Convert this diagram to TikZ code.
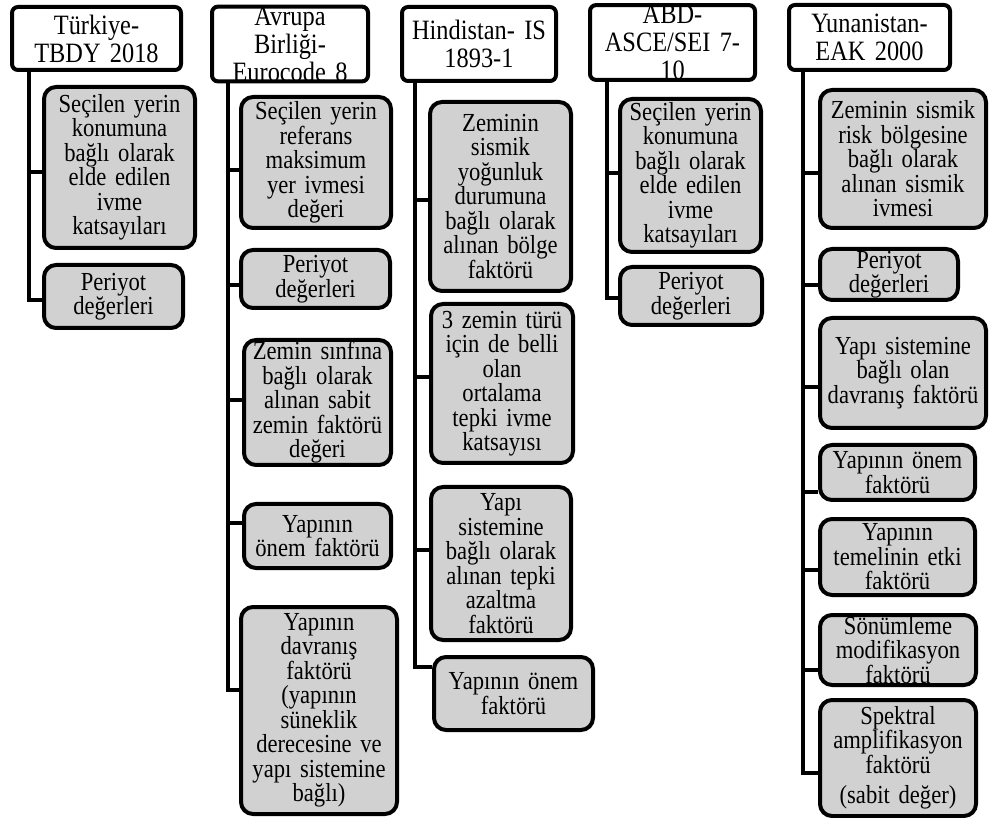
\documentclass[tikz,border=0pt]{standalone}
\usepackage{fontspec}
\setmainfont{Liberation Serif}[FakeStretch = 0.87]
\definecolor{boxgray}{RGB}{209, 209, 209}

\begin{document}
\begin{tikzpicture}[x = 1pt, y = -1pt,
	boxsize/.style 2 args = {minimum width = #1pt, minimum height = #2pt, text width = #1pt},
	head/.style = {draw, line width = 4pt, rounded corners = 6pt, fill = white, align = center, inner sep = 0pt, font = {\fontsize{28}{28}\selectfont\spaceskip 5pt\relax}},
	item/.style = {draw, line width = 4pt, rounded corners = 12pt, fill = boxgray, align = center, inner sep = 0pt, font = {\fontsize{26}{24.5}\selectfont\spaceskip 4.5pt\relax}},
	link/.style = {line width = 4pt}]

	\useasboundingbox (0, 0) rectangle (989, 818);

	\node [head, boxsize = {169}{63}] (h1) at (96.5, 38.5) {Türkiye-\\TBDY 2018};
	\node [head, boxsize = {156}{74}] (h2) at (290, 44) {Avrupa\\Birliği-\\Eurocode 8};
	\node [head, boxsize = {154}{74}] (h3) at (479, 44) {Hindistan- IS\\1893-1};
	\node [head, boxsize = {165}{71}] (h4) at (672.5, 42.5) {ABD-\\ASCE/SEI 7-\\10};
	\node [head, boxsize = {161}{65}] (h5) at (869.5, 37.5) {Yunanistan-\\EAK 2000};

	\coordinate (s1) at (29, 70);
	\coordinate (s2) at (228, 81);
	\coordinate (s3) at (415, 81);
	\coordinate (s4) at (607, 78);
	\coordinate (s5) at (803, 70);

	\node [item, boxsize = {151}{161}] (a11) at (119.5, 167.5) {Seçilen yerin\\konumuna\\bağlı olarak\\elde edilen\\ivme\\katsayıları};
	\node [item, boxsize = {139}{63}] (a12) at (113.5, 296.5) {Periyot\\değerleri};

	\draw [link] ([yshift = -4.5pt] a11.west) -| (s1);
	\draw [link] ([yshift = -3.5pt] a12.west) -| (s1);

	\node [item, boxsize = {150}{131}] (a21) at (316, 162.5) {Seçilen yerin\\referans\\maksimum\\yer ivmesi\\değeri};
	\node [item, boxsize = {149}{58}] (a22) at (315.5, 279) {Periyot\\değerleri};
	\node [item, boxsize = {147}{125}] (a23) at (317.5, 402.5) {Zemin sınfına\\bağlı olarak\\alınan sabit\\zemin faktörü\\değeri};
	\node [item, boxsize = {147}{64}] (a24) at (317.5, 536) {Yapının\\önem faktörü};
	\node [item, boxsize = {156}{207}] (a25) at (319, 710.5) {Yapının\\davranış\\faktörü\\(yapının\\süneklik\\derecesine ve\\yapı sistemine\\bağlı)};

	\draw [link] ([yshift = -7.5pt] a21.west) -| (s2);
	\draw [link] ([yshift = -6pt] a22.west) -| (s2);
	\draw [link] ([yshift = 2.5pt] a23.west) -| (s2);
	\draw [link] ([yshift = 13pt] a24.west) -| (s2);
	\draw [link] ([yshift = 20.5pt] a25.west) -| (s2);

	\node [item, boxsize = {141}{189}] (a31) at (500.5, 196.5) {Zeminin\\sismik\\yoğunluk\\durumuna\\bağlı olarak\\alınan bölge\\faktörü};
	\node [item, boxsize = {142}{159}] (a32) at (502, 383.5) {3 zemin türü\\için de belli\\olan\\ortalama\\tepki ivme\\katsayısı};
	\node [item, boxsize = {140}{153}] (a33) at (501, 563.5) {Yapı\\sistemine\\bağlı olarak\\alınan tepki\\azaltma\\faktörü};
	\node [item, boxsize = {159}{73}] (a34) at (513.5, 693.5) {Yapının önem\\faktörü};

	\draw [link] ([yshift = -3.5pt] a31.west) -| (s3);
	\draw [link] ([yshift = 6.5pt] a32.west) -| (s3);
	\draw [link] ([yshift = 13.5pt] a33.west) -| (s3);
	\draw [link] ([yshift = 26.5pt] a34.west) -| (s3);

	\node [item, boxsize = {141}{153}] (a41) at (690.5, 175.5) {Seçilen yerin\\konumuna\\bağlı olarak\\elde edilen\\ivme\\katsayıları};
	\node [item, boxsize = {142}{58}] (a42) at (691, 296) {Periyot\\değerleri};

	\draw [link] ([yshift = 2.5pt] a41.west) -| (s4);
	\draw [link] ([yshift = -2pt] a42.west) -| (s4);

	\node [item, boxsize = {166}{138}] (a51) at (903, 159) {Zeminin sismik\\risk bölgesine\\bağlı olarak\\alınan sismik\\ivmesi};
	\node [item, boxsize = {138}{51}] (a52) at (889, 274.5) {Periyot\\değerleri};
	\node [item, boxsize = {166}{110}] (a53) at (903, 373) {Yapı sistemine\\bağlı olan\\davranış faktörü};
	\node [item, boxsize = {155}{55}] (a54) at (897.5, 472.5) {Yapının önem\\faktörü};
	\node [item, boxsize = {155}{76}] (a55) at (897.5, 557) {Yapının\\temelinin etki\\faktörü};
	\node [item, boxsize = {156}{70}] (a56) at (898, 650) {Sönümleme\\modifikasyon\\faktörü};
	\node [item, boxsize = {156}{116}] (a57) at (898, 758) {Spektral\\amplifikasyon\\faktörü\\[6pt](sabit değer)};

	\draw [link] ([yshift = -14pt] a51.west) -| (s5);
	\draw [link] ([yshift = -10.5pt] a52.west) -| (s5);
	\draw [link] ([yshift = -14pt] a53.west) -| (s5);
	\draw [link] ([yshift = -19.5pt] a54.west) -| (s5);
	\draw [link] ([yshift = -13pt] a55.west) -| (s5);
	\draw [link] ([yshift = -20pt] a56.west) -| (s5);
	\draw [link] ([yshift = -15pt] a57.west) -| (s5);

\end{tikzpicture}
\end{document}
